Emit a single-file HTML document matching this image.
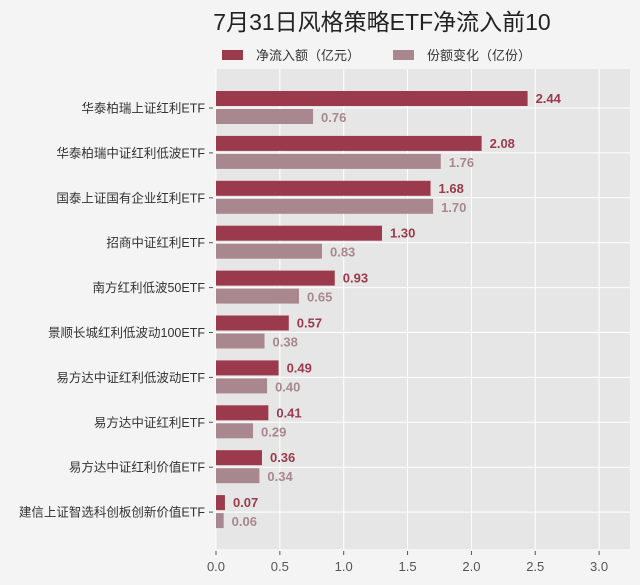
<!DOCTYPE html>
<html><head><meta charset="utf-8"><style>
body{margin:0;background:#f4f4f4;}
svg{display:block;font-family:"Liberation Sans","Noto Sans CJK SC",sans-serif;}
</style></head><body>
<svg id="c" width="640" height="585">
<rect x="0" y="0" width="640" height="585" fill="#f4f4f4"/>
<text x="382" y="30" text-anchor="middle" font-size="23" fill="#222">7月31日风格策略ETF净流入前10</text>
<g>
<rect x="222" y="50" width="21" height="10" fill="#9b3a4d"/>
<text x="256" y="60" font-size="13" fill="#333">净流入额（亿元）</text>
<rect x="393" y="50" width="21" height="10" fill="#a9878f"/>
<text x="427" y="60" font-size="13" fill="#333">份额变化（亿份）</text>
</g>
<rect x="216" y="69" width="414" height="480" fill="#e6e6e6"/>
<g id="grid"></g><g id="bars"></g><g id="axes"></g>
</svg>
<script>
const categories=["华泰柏瑞上证红利ETF","华泰柏瑞中证红利低波ETF","国泰上证国有企业红利ETF","招商中证红利ETF","南方红利低波50ETF","景顺长城红利低波动100ETF","易方达中证红利低波动ETF","易方达中证红利ETF","易方达中证红利价值ETF","建信上证智选科创板创新价值ETF"];
const netValues=[2.44,2.08,1.68,1.30,0.93,0.57,0.49,0.41,0.36,0.07];
const shareValues=[0.76,1.76,1.70,0.83,0.65,0.38,0.40,0.29,0.34,0.06];
const xTicks=[0,0.5,1,1.5,2,2.5,3];
const NS="http://www.w3.org/2000/svg";
const x=v=>216+v*127.7;
const y=i=>108+i*44.9;
function mk(tag,attrs,parent,txt){const e=document.createElementNS(NS,tag);for(const k in attrs)e.setAttribute(k,attrs[k]);if(txt!==undefined)e.textContent=txt;document.getElementById(parent).appendChild(e);return e;}
xTicks.forEach(t=>{
 const g=mk('line',{x1:x(t),x2:x(t),y1:69,y2:549,stroke:'#fff','stroke-width':1},'grid');
 
 
 const tk=mk('line',{x1:x(t),x2:x(t),y1:551,y2:555,stroke:'#555'},'axes');
 
 
 const l=mk('text',{x:x(t),y:571,'text-anchor':'middle','font-size':13,fill:'#555'},'axes',t.toFixed(1));
 
 
});
categories.forEach((c,i)=>{
 const cy=y(i);
 const g=mk('line',{x1:216,x2:630,y1:cy,y2:cy,stroke:'#fff','stroke-width':1},'grid');
 
 
 const tk=mk('line',{x1:209,x2:213,y1:cy,y2:cy,stroke:'#555'},'axes');
 
 
 const l=mk('text',{x:205,y:cy+4.5,'text-anchor':'end','font-size':12.5,fill:'#333'},'axes',c);
 
 
 const b1=mk('rect',{x:216,y:cy-17,width:x(netValues[i])-216,height:15,fill:'#9b3a4d'},'bars');
 
 
 const t1=mk('text',{x:x(netValues[i])+8,y:cy-5,'font-size':13,'font-weight':'bold',fill:'#9b3a4d'},'bars',netValues[i].toFixed(2));
 
 
 const b2=mk('rect',{x:216,y:cy+1,width:x(shareValues[i])-216,height:15,fill:'#a9878f'},'bars');
 
 
 const t2=mk('text',{x:x(shareValues[i])+8,y:cy+14,'font-size':13,'font-weight':'bold',fill:'#a9878f'},'bars',shareValues[i].toFixed(2));
 
 
});
</script>
</body></html>
